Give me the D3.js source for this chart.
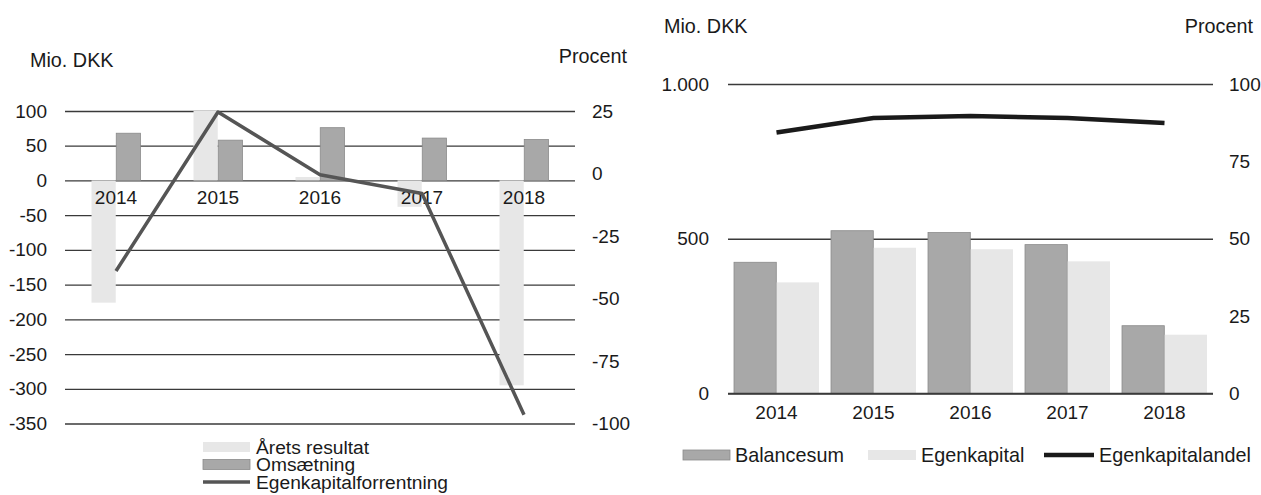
<!DOCTYPE html>
<html><head><meta charset="utf-8">
<script src="https://cdn.jsdelivr.net/npm/d3@7"></script>
<style>
body{margin:0;background:#fff;}
svg{display:block;font-family:"Liberation Sans",Arial,sans-serif;}
text{fill:#1a1a1a;}
</style></head><body>
<svg id="c" width="1261" height="495"></svg>
<script>
// ---------- data ----------
const years = ["2014","2015","2016","2017","2018"];
// left chart
const aretsResultat = [-176, 100, 5, -38, -295];      // Mio. DKK
const omsaetning = [68, 58, 76, 61, 59];               // Mio. DKK
const egenkapitalforrentning = [-39, 24.6, -0.5, -8, -96.5]; // Procent
const leftTicks = [100, 50, 0, -50, -100, -150, -200, -250, -300, -350];
const leftTickLabels = ["100","50","0","-50","-100","-150","-200","-250","-300","-350"];
const leftRightTicks = [25, 0, -25, -50, -75, -100];
const leftRightTickLabels = ["25","0","-25","-50","-75","-100"];
// right chart
const balancesum = [424, 526, 520, 481, 219];          // Mio. DKK
const egenkapital = [359, 471, 466, 427, 190];          // Mio. DKK
const egenkapitalandel = [84.3, 89, 89.7, 89, 87.4];    // Procent
const rightTicks = [0, 500, 1000];
const rightTickLabels = ["0","500","1.000"];
const rightRightTicks = [0, 25, 50, 75, 100];
const rightRightTickLabels = ["0","25","50","75","100"];

const DARK = "#a8a8a8", DARK_STROKE = "#8a8a8a", LIGHT = "#e7e7e7";
const FS = 19;      // tick labels
const FT = 19.8;    // titles & legends
const svg = d3.select("#c");

function styleTicks(sel){
  sel.selectAll(".tick text").attr("font-size",FS).attr("fill","#1a1a1a")
    .attr("font-family","Liberation Sans, Arial");
}

// ================= LEFT CHART =================
{
  const L = 65, R = 575, T = 111, B = 423.5;
  const g = svg.append("g");
  const x0 = d3.scaleBand().domain(years).range([L, R]).paddingInner(0.52).paddingOuter(0.26);
  const x1 = d3.scaleBand().domain(["res","oms"]).range([0, x0.bandwidth()]).paddingInner(0.02);
  const y = d3.scaleLinear().domain([-350, 100]).range([B, T]);
  const y2 = d3.scaleLinear().domain([-100, 25]).range([B, T]);

  const ax = g.append("g").attr("transform", `translate(${L},0)`)
    .call(d3.axisLeft(y).tickValues(leftTicks)
      .tickFormat((d,i)=>leftTickLabels[i]).tickSize(-(R-L)).tickPadding(18));
  ax.select(".domain").remove();
  ax.selectAll(".tick line").attr("stroke","#3a3a3a").attr("stroke-width",1.3);
  styleTicks(ax);

  const ax2 = g.append("g").attr("transform", `translate(${R},0)`)
    .call(d3.axisRight(y2).tickValues(leftRightTicks)
      .tickFormat((d,i)=>leftRightTickLabels[i]).tickSize(0).tickPadding(17));
  ax2.select(".domain").remove();
  styleTicks(ax2);

  const bars = g.append("g");
  bars.selectAll(".res").data(years).join("rect")
    .attr("x", d => x0(d) + x1("res"))
    .attr("width", x1.bandwidth())
    .attr("y", (d,i) => y(Math.max(0, aretsResultat[i])))
    .attr("height", (d,i) => Math.abs(y(aretsResultat[i]) - y(0)))
    .attr("fill", LIGHT);
  bars.selectAll(".oms").data(years).join("rect")
    .attr("x", d => x0(d) + x1("oms"))
    .attr("width", x1.bandwidth())
    .attr("y", (d,i) => y(Math.max(0, omsaetning[i])))
    .attr("height", (d,i) => Math.abs(y(omsaetning[i]) - y(0)))
    .attr("fill", DARK).attr("stroke", DARK_STROKE).attr("stroke-width", 0.8);

  const xa = g.append("g").attr("transform", `translate(0,${y(0)})`)
    .call(d3.axisBottom(x0).tickSize(0).tickPadding(10));
  xa.select(".domain").remove();
  styleTicks(xa);

  const line = d3.line().x((d,i)=>x0(years[i]) + x0.bandwidth()/2).y(d=>y2(d));
  g.append("path").datum(egenkapitalforrentning).attr("d", line)
    .attr("fill","none").attr("stroke","#555").attr("stroke-width",3.5).attr("stroke-linejoin","round");

  g.append("text").attr("x",30).attr("y",67).attr("font-size",FT).text("Mio. DKK");
  g.append("text").attr("x",627).attr("y",63).attr("font-size",FT).attr("text-anchor","end").text("Procent");

  const lg = g.append("g");
  const items = [
    {label:"Årets resultat", type:"bar", fill:LIGHT},
    {label:"Omsætning", type:"bar", fill:DARK},
    {label:"Egenkapitalforrentning", type:"line", fill:"#555"}
  ];
  items.forEach((it,i)=>{
    const cy = 447 + i*17.5;
    if (it.type==="bar") {
      lg.append("rect").attr("x",203).attr("y",cy-5).attr("width",47).attr("height",10)
        .attr("fill",it.fill).attr("stroke", it.fill===DARK?DARK_STROKE:"none").attr("stroke-width",0.8);
    } else {
      lg.append("line").attr("x1",203).attr("x2",250).attr("y1",cy).attr("y2",cy)
        .attr("stroke",it.fill).attr("stroke-width",3.5);
    }
    lg.append("text").attr("x",256).attr("y",cy+6.5).attr("font-size",19.2).text(it.label);
  });
}

// ================= RIGHT CHART =================
{
  const L = 728, R = 1213, T = 84, B = 393.5;
  const g = svg.append("g");
  const x0 = d3.scaleBand().domain(years).range([L, R]).paddingInner(0.124).paddingOuter(0.062);
  const x1 = d3.scaleBand().domain(["bal","egk"]).range([0, x0.bandwidth()]).paddingInner(0.01);
  const y = d3.scaleLinear().domain([0, 1000]).range([B, T]);
  const y2 = d3.scaleLinear().domain([0, 100]).range([B, T]);

  const ax = g.append("g").attr("transform", `translate(${L},0)`)
    .call(d3.axisLeft(y).tickValues(rightTicks)
      .tickFormat((d,i)=>rightTickLabels[i]).tickSize(-(R-L)).tickPadding(19));
  ax.select(".domain").remove();
  ax.selectAll(".tick line").attr("stroke","#3a3a3a").attr("stroke-width",1.3);
  styleTicks(ax);

  const ax2 = g.append("g").attr("transform", `translate(${R},0)`)
    .call(d3.axisRight(y2).tickValues(rightRightTicks)
      .tickFormat((d,i)=>rightRightTickLabels[i]).tickSize(0).tickPadding(16));
  ax2.select(".domain").remove();
  styleTicks(ax2);

  const bars = g.append("g");
  bars.selectAll(".bal").data(years).join("rect")
    .attr("x", d => x0(d) + x1("bal")).attr("width", x1.bandwidth())
    .attr("y", (d,i)=>y(balancesum[i])).attr("height",(d,i)=>y(0)-y(balancesum[i]))
    .attr("fill", DARK).attr("stroke", DARK_STROKE).attr("stroke-width", 0.8);
  bars.selectAll(".egk").data(years).join("rect")
    .attr("x", d => x0(d) + x1("egk")).attr("width", x1.bandwidth())
    .attr("y", (d,i)=>y(egenkapital[i])).attr("height",(d,i)=>y(0)-y(egenkapital[i]))
    .attr("fill", LIGHT);

  g.append("line").attr("x1",L).attr("x2",R).attr("y1",y(0)).attr("y2",y(0))
    .attr("stroke","#3a3a3a").attr("stroke-width",1.3);

  const xa = g.append("g").attr("transform", `translate(0,${B})`)
    .call(d3.axisBottom(x0).tickSize(0).tickPadding(12));
  xa.select(".domain").remove();
  styleTicks(xa);

  const line = d3.line().x((d,i)=>x0(years[i]) + x0.bandwidth()/2).y(d=>y2(d));
  g.append("path").datum(egenkapitalandel).attr("d", line)
    .attr("fill","none").attr("stroke","#1a1a1a").attr("stroke-width",4.5).attr("stroke-linejoin","round");

  g.append("text").attr("x",664).attr("y",33).attr("font-size",FT).text("Mio. DKK");
  g.append("text").attr("x",1253).attr("y",33).attr("font-size",FT).attr("text-anchor","end").text("Procent");

  const lg = g.append("g");
  const cy = 455;
  lg.append("rect").attr("x",683).attr("y",cy-5).attr("width",47).attr("height",10)
    .attr("fill",DARK).attr("stroke",DARK_STROKE).attr("stroke-width",0.8);
  lg.append("text").attr("x",735).attr("y",cy+7).attr("font-size",FT).text("Balancesum");
  lg.append("rect").attr("x",868).attr("y",cy-5).attr("width",48).attr("height",10).attr("fill",LIGHT);
  lg.append("text").attr("x",921).attr("y",cy+7).attr("font-size",FT).text("Egenkapital");
  lg.append("line").attr("x1",1044).attr("x2",1094).attr("y1",cy).attr("y2",cy)
    .attr("stroke","#1a1a1a").attr("stroke-width",4.5);
  lg.append("text").attr("x",1099).attr("y",cy+7).attr("font-size",FT).text("Egenkapitalandel");
}
</script>
</body></html>
